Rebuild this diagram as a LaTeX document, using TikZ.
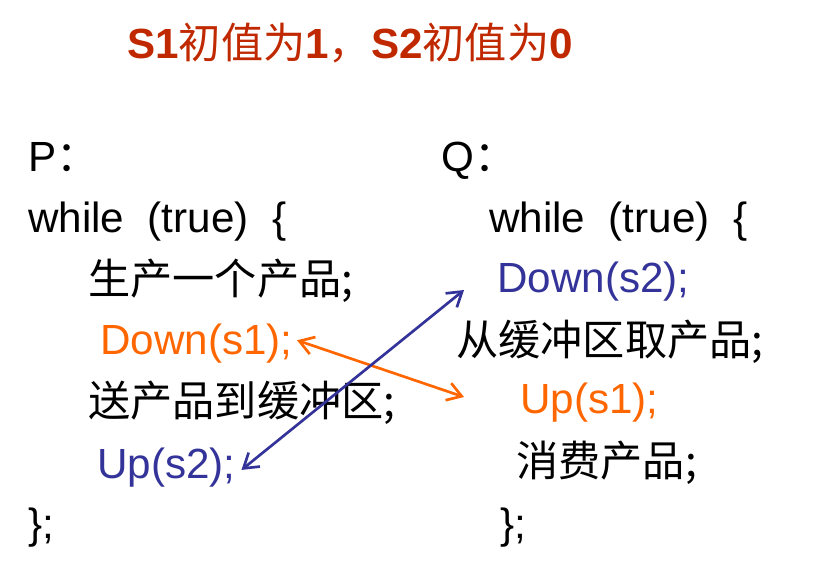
\documentclass[tikz,border=0pt]{standalone}
\usepackage{fontspec}
\setmainfont{Liberation Sans}
\newfontfamily\cjk{Noto Sans CJK SC}
\usepackage{xcolor}
\usetikzlibrary{arrows.meta, positioning}

\definecolor{titlered}{RGB}{192,40,0}
\definecolor{semorange}{RGB}{255,102,0}
\definecolor{semblue}{RGB}{51,51,153}

\begin{document}
\begin{tikzpicture}[
  x=0.025cm, y=-0.025cm,
  line/.style={anchor=base west, inner sep=0pt, font=\fontsize{30}{36}\selectfont},
  title/.style={line, text=titlered, font=\fontsize{30}{36}\selectfont\bfseries},
  downop/.style={line, text=semorange},
  upop/.style={line, text=semblue},
  arr/.style={{Straight Barb[length=3.5mm,width=4.5mm]}-{Straight Barb[length=3.5mm,width=4.5mm]}, line width=1.9pt}
]
\useasboundingbox (0,0) rectangle (833,575);

\node[title] (init) at (127,58) {S1{\cjk\mdseries 初值为}1{\cjk\mdseries ，}S2{\cjk\mdseries 初值为}0};

% producer P
\node[line] (p) at (28,171) {P{\cjk ：}};
\node[line] (pwhile) at (28,232) {while\ \ (true)\ \ \{};
\node[line] (produce) at (88,294) {\cjk 生产一个产品;};
\node[downop] (down1) at (100,354) {Down(s1);};
\node[line] (put) at (88,416) {\cjk 送产品到缓冲区;};
\node[upop] (up2) at (97,478) {Up(s2);};
\node[line] (pend) at (28,538) {\};};

% consumer Q
\node[line] (q) at (441,171) {Q{\cjk ：}};
\node[line] (qwhile) at (489,232) {while\ \ (true)\ \ \{};
\node[upop] (down2) at (497,292) {Down(s2);};
\node[line] (take) at (456,355) {\cjk 从缓冲区取产品;};
\node[downop] (up1) at (520,413) {Up(s1);};
\node[line] (consume) at (516,476) {\cjk 消费产品;};
\node[line] (qend) at (500,538) {\};};

\coordinate (s1end) at (464,397);
\coordinate (s2end) at (464,290);

\draw[arr, semorange] ([xshift=3pt,yshift=2pt]down1.east) -- (s1end);
\draw[arr, semblue] ([xshift=4pt,yshift=-2pt]up2.east) -- (s2end);
\end{tikzpicture}
\end{document}
